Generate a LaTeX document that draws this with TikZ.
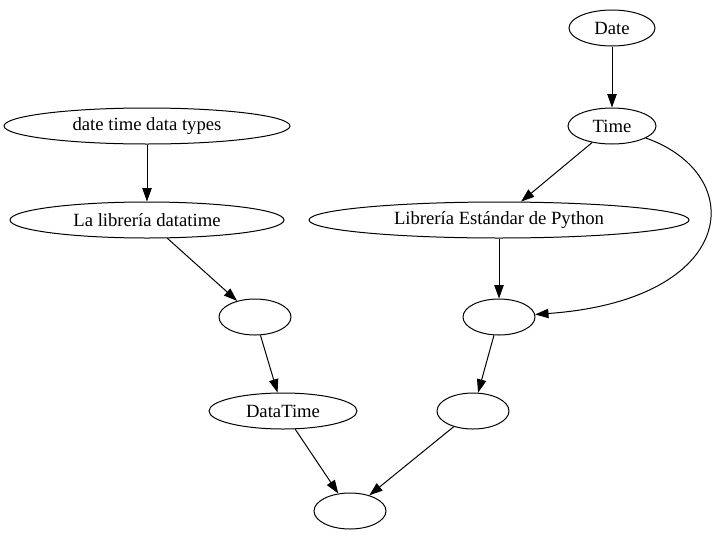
\documentclass[tikz,border=0pt]{standalone}
\usepackage{fontspec}
\setmainfont{Liberation Serif}
\usetikzlibrary{arrows.meta}
\usetikzlibrary{shapes.geometric}

\begin{document}
\begin{tikzpicture}[x=0.75pt,y=-0.75pt,
		font=\fontsize{14pt}{16pt}\selectfont,
		line width=0.75pt,
		nd/.style={ellipse, draw, inner sep=0pt, minimum height=27pt},
		edge/.style={-{Triangle[length=10pt,width=7pt]}}]
		\useasboundingbox (0,0) rectangle (716,539);

		\node[nd, minimum width=64.5pt] (date) at (612,28) {Date};
		\node[nd, minimum width=66pt] (time) at (612,126) {Time};
		\node[nd, minimum width=214.5pt] (types) at (147,126) {date time data types};
		\node[nd, minimum width=205.5pt] (libdt) at (147,220) {La librería datatime};
		\node[nd, minimum width=285pt] (libstd) at (499,220) {Librería Estándar de Python};
		\node[nd, minimum width=54pt] (e1) at (255,317) {};
		\node[nd, minimum width=54pt] (e2) at (499,317) {};
		\node[nd, minimum width=111pt] (dtime) at (283,411) {DataTime};
		\node[nd, minimum width=54pt] (e3) at (473,411) {};
		\node[nd, minimum width=54pt] (e4) at (350,511) {};

		\draw[edge] (date) -- (time);
		\draw[edge] (time) -- (libstd);
		\draw[edge] (time) .. controls (750,175) and (738,300) .. (e2);
		\draw[edge] (types) -- (libdt);
		\draw[edge] (libdt) -- (e1);
		\draw[edge] (libstd) -- (e2);
		\draw[edge] (e1) -- (dtime);
		\draw[edge] (e2) -- (e3);
		\draw[edge] (dtime) -- (e4);
		\draw[edge] (e3) -- (e4);
	\end{tikzpicture}
\end{document}
